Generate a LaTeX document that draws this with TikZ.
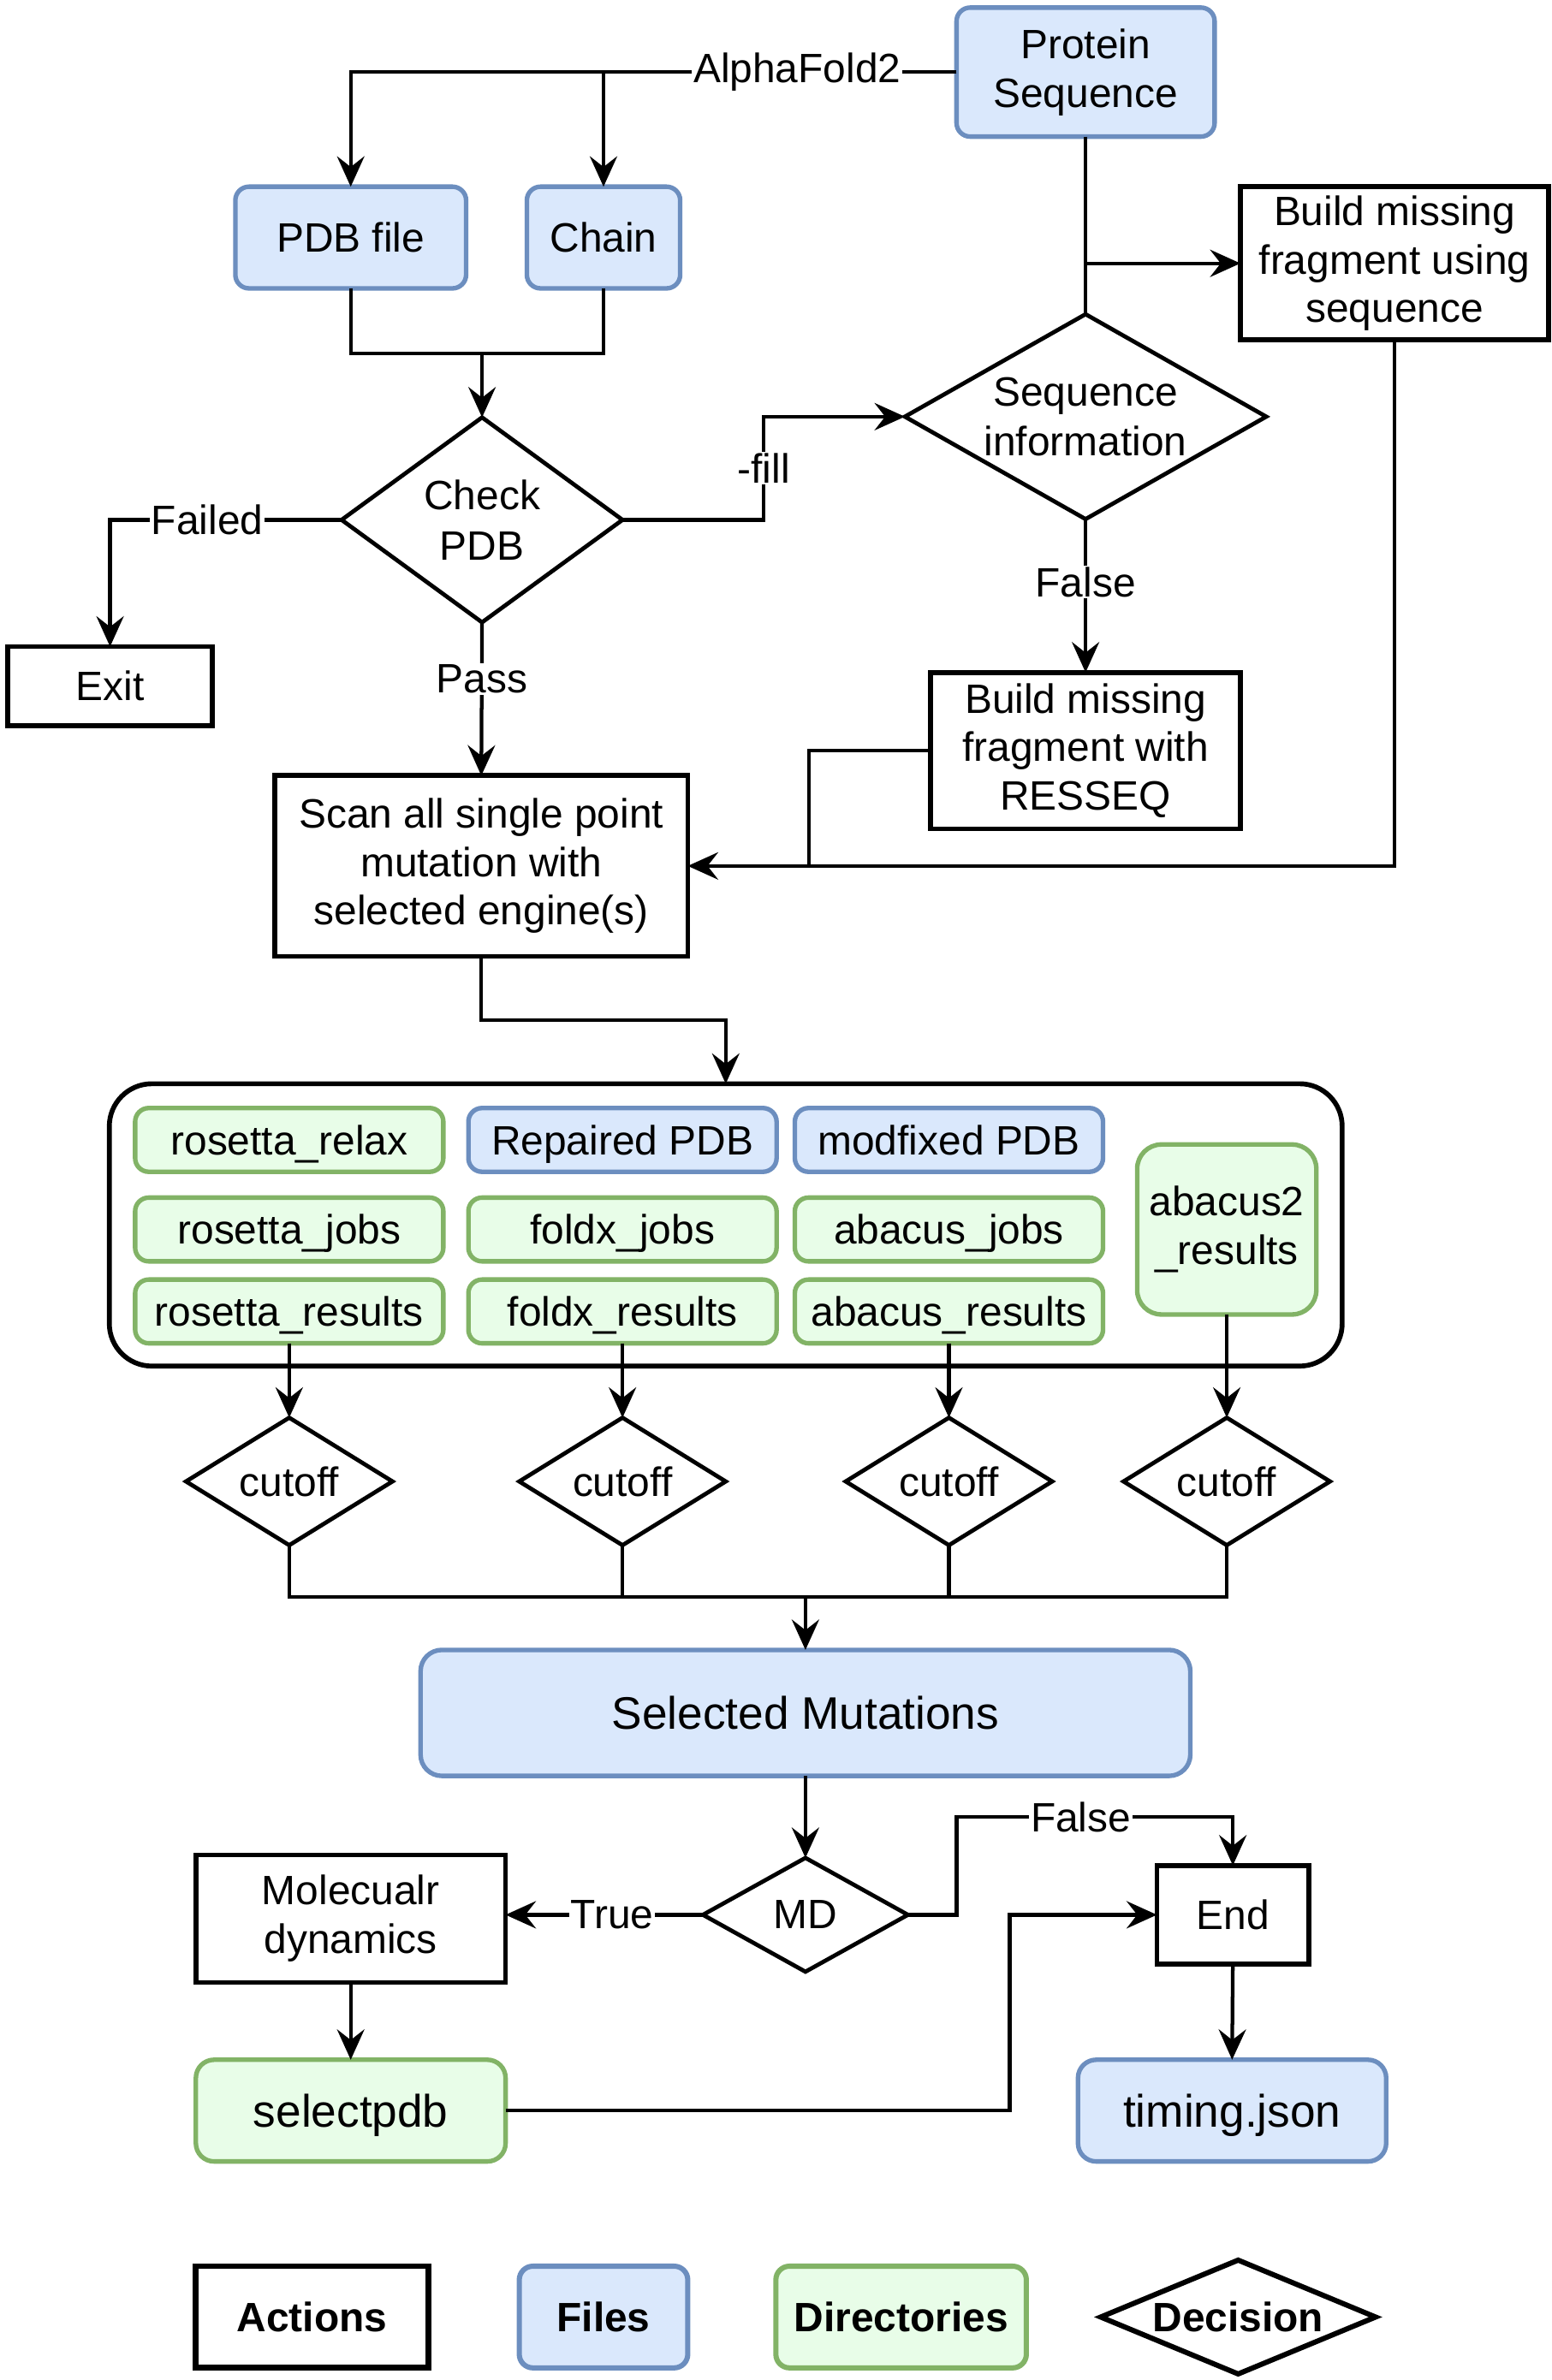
\documentclass[tikz,border=0pt]{standalone}
\usepackage{fontspec}
\setmainfont{Liberation Sans}
\usetikzlibrary{arrows.meta,shapes.geometric}
\definecolor{bfill}{HTML}{DAE8FC}
\definecolor{bdraw}{HTML}{6C8EBF}
\definecolor{gfill}{HTML}{E8FDE8}
\definecolor{gdraw}{HTML}{82B366}
\begin{document}
\begin{tikzpicture}[x=1pt,y=-1pt,
  font=\fontsize{27}{32}\selectfont,
  box/.style 2 args={draw, line width=3.2pt, minimum width=#1, minimum height=#2, inner sep=0pt, outer sep=0pt, align=center},
  file/.style 2 args={box={#1}{#2}, fill=bfill, draw=bdraw, rounded corners=9pt, line width=3pt},
  dir/.style 2 args={box={#1}{#2}, fill=gfill, draw=gdraw, rounded corners=9pt, line width=3pt},
  one/.style={text height=19.3pt, text depth=0pt},
  bigone/.style={text height=21.5pt, text depth=0pt},
  dia/.style 2 args={diamond, draw, line width=2.7pt, minimum width=#1, minimum height=#2, inner sep=0pt, outer sep=0pt},
  dtext/.style={label={[align=center,font=\fontsize{27}{33}\selectfont]center:#1}},
  big/.style={font=\fontsize{30}{34}\selectfont},
  line/.style={line width=2.4pt},
  arr/.style={line, -{Stealth[length=20pt,width=18pt,inset=7pt]}},
  lbl/.style={fill=white, inner sep=1pt}
]
\useasboundingbox (0,0) rectangle (1022,1568);

% top part
\node[file={170}{85}] (prot) at (715,47.5) {Protein\\Sequence};
\node[file={152}{67}, one] (pdb) at (231,156.5) {PDB file};
\node[file={101}{67}, one] (chain) at (397.5,156.5) {Chain};
\node[box={203}{101}] (bseq) at (918.5,173.5) {Build missing\\fragment using\\sequence};
\node[dia={238}{135}, dtext={Sequence\\information}] (sqi) at (715,274.5) {};
\node[dia={185}{135}, dtext={Check\\PDB}] (chk) at (317.5,342.5) {};
\node[box={135}{52}, one] (exit) at (72.5,452) {Exit};
\node[box={204}{103}] (res) at (715,494.5) {Build missing\\fragment with\\RESSEQ};
\node[box={272}{119}] (scan) at (317,570.5) {Scan all single point\\mutation with\\selected engine(s)};

% container
\node[draw, line width=3.2pt, rounded corners=28pt, minimum width=812, minimum height=186, inner sep=0pt, outer sep=0pt] (cont) at (478,807) {};
\node[dir={203}{42}, one] (rrel) at (190.5,751) {rosetta\_relax};
\node[file={203}{42}, one] (rpdb) at (410,751) {Repaired PDB};
\node[file={203}{42}, one] (mpdb) at (625,751) {modfixed PDB};
\node[dir={203}{42}, one] (rjob) at (190.5,810) {rosetta\_jobs};
\node[dir={203}{42}, one] (fjob) at (410,810) {foldx\_jobs};
\node[dir={203}{42}, one] (ajob) at (625,810) {abacus\_jobs};
\node[dir={203}{42}, one] (rres) at (190.5,864) {rosetta\_results};
\node[dir={203}{42}, one] (fres) at (410,864) {foldx\_results};
\node[dir={203}{42}, one] (ares) at (625,864) {abacus\_results};
\node[dir={118}{112}, rounded corners=16pt] (a2res) at (808,810) {abacus2\\\_results};

% cutoffs
\node[dia={136}{84}, dtext={cutoff}] (cut1) at (190.5,976) {};
\node[dia={136}{84}, dtext={cutoff}] (cut2) at (410,976) {};
\node[dia={136}{84}, dtext={cutoff}] (cut3) at (625,976) {};
\node[dia={136}{84}, dtext={cutoff}] (cut4) at (808,976) {};

% bottom part
\node[file={507}{83}, big, bigone, rounded corners=14pt] (selm) at (530.5,1128.5) {Selected Mutations};
\node[dia={135}{75}, dtext={MD}] (md) at (530.5,1261.5) {};
\node[box={204}{84}] (mol) at (231,1264) {Molecualr\\dynamics};
\node[box={100}{65}, one] (en) at (812,1261.5) {End};
\node[dir={204}{67}, big, bigone, rounded corners=12pt] (sel) at (231,1390.5) {selectpdb};
\node[file={203}{67}, big, bigone, rounded corners=12pt] (tim) at (811.5,1390.5) {timing.json};

% legend
\node[box={153}{67}, line width=3.8pt, one, font=\fontsize{27}{32}\selectfont\bfseries] (lact) at (205.5,1526.5) {Actions};
\node[file={111}{67}, line width=3.4pt, one, font=\fontsize{27}{32}\selectfont\bfseries] (lfil) at (397.5,1526.5) {Files};
\node[dir={165}{67}, line width=3.4pt, one, font=\fontsize{27}{32}\selectfont\bfseries] (ldir) at (593.5,1526.5) {Directories};
\node[dia={181}{75}, line width=3.4pt, label={[font=\fontsize{27}{32}\selectfont\bfseries]center:Decision}] (ldec) at (815.5,1526.5) {};

% coordinates
\coordinate (m1) at (317.5,233);
\coordinate (c1) at (503,342.5);
\coordinate (r1) at (533,570.5);
\coordinate (k1) at (317,672);
\coordinate (j1) at (530.5,1052);
\coordinate (f1) at (630,1197);
\coordinate (s1) at (665,1261.5);

% connectors top
\draw[arr] (prot.west) -- node[lbl,pos=0.263]{AlphaFold2} (pdb.north |- prot.west) -- (pdb.north);
\draw[arr] (chain.north |- prot.west) -- (chain.north);
\draw[line] (pdb.south) |- (m1) -| (chain.south);
\draw[arr] (m1) -- (chk.north);
\draw[arr] (chk.west) -| node[lbl,pos=0.29]{Failed} (exit.north);
\draw[arr] (chk.south) -- node[lbl,pos=0.37]{Pass} (scan.north);
\draw[arr] (chk.east) -- (c1) |- node[lbl,pos=0.25]{-fill} (sqi.west);
\draw[line] (prot.south) -- (sqi.north);
\draw[arr] (prot.south |- bseq.west) -- (bseq.west);
\draw[arr] (sqi.south) -- node[lbl,pos=0.41]{False} (res.north);
\draw[line] (res.west) -| (r1);
\draw[arr] (bseq.south) |- (scan.east);
\draw[arr] (scan.south) -- (k1) -| (cont.north);

% connectors middle
\draw[arr] (rres.south) -- (cut1.north);
\draw[arr] (fres.south) -- (cut2.north);
\draw[arr] (ares.south) -- (cut3.north);
\draw[arr] (a2res.south) -- (cut4.north);
\draw[line] (cut1.south) |- (j1) -| (cut4.south);
\draw[line] (cut2.south) -- (cut2.south |- j1);
\draw[line] (cut3.south) -- (cut3.south |- j1);
\draw[arr] (j1) -- (selm.north);

% connectors bottom
\draw[arr] (selm.south) -- (md.north);
\draw[arr] (md.west) -- node[lbl,pos=0.46]{True} (mol.east |- md.west);
\draw[arr] (md.east) -| (f1) -- node[lbl,pos=0.45]{False} (f1 -| en.north) -- (en.north);
\draw[arr] (mol.south) -- (sel.north);
\draw[arr] (sel.east) -| (s1) -- (en.west);
\draw[arr] (en.south) -- (tim.north);
\end{tikzpicture}
\end{document}
